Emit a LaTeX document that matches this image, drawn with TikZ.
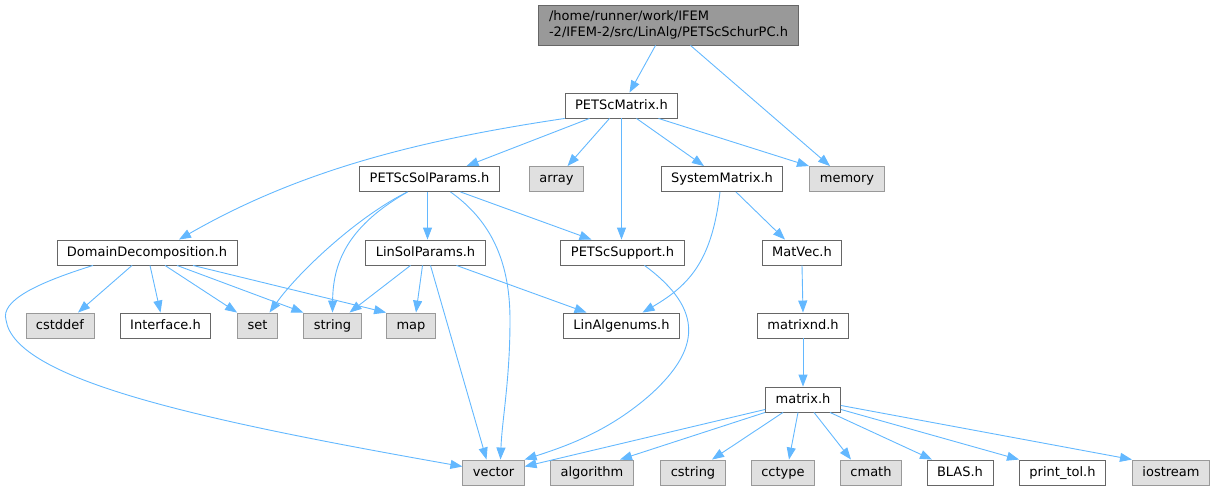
\documentclass[tikz,border=0pt]{standalone}
\usepackage{fontspec}
\setmainfont{DejaVu Sans}
\usetikzlibrary{arrows.meta}
\definecolor{edgeblue}{HTML}{63B8FF}
\definecolor{sysfill}{HTML}{E0E0E0}
\definecolor{sysline}{HTML}{999999}
\definecolor{fileline}{HTML}{666666}

\begin{document}
\begin{tikzpicture}[x=1pt,y=-1pt,
    font=\fontsize{13}{16}\selectfont,
    file/.style={draw=fileline, fill=white, line width=0.9pt, inner xsep=10pt,
        minimum height=25pt, text height=9.5pt, text depth=2.5pt},
    sysfile/.style={file, draw=sysline, fill=sysfill},
    rootfile/.style={file, fill=sysline, align=left, inner xsep=10.5pt,
        minimum height=40pt, text height=, text depth=},
    dep/.style={draw=edgeblue, line width=0.9pt, -{Triangle[length=12pt,width=9pt]}}]
    \useasboundingbox (0,0) rectangle (1216,491);

    % rows of the include graph
    \node[rootfile] (root) at (668.5,25) {/home/runner/work/IFEM\\-2/IFEM-2/src/LinAlg/PETScSchurPC.h};
    \node[file] (pmat) at (621.5,105.5) {PETScMatrix.h};

    \node[file] (psp) at (429.5,179) {PETScSolParams.h};
    \node[sysfile] (array) at (556.5,179) {array};
    \node[file] (sysm) at (722,179) {SystemMatrix.h};
    \node[sysfile] (memory) at (847,179) {memory};

    \node[file] (dd) at (147,252.5) {DomainDecomposition.h};
    \node[file] (lsp) at (425.5,252.5) {LinSolParams.h};
    \node[file] (psup) at (622.5,252.5) {PETScSupport.h};
    \node[file] (matvec) at (802,252.5) {MatVec.h};

    \node[sysfile] (cstddef) at (60,325.5) {cstddef};
    \node[file] (iface) at (165.5,325.5) {Interface.h};
    \node[sysfile] (set) at (257.5,325.5) {set};
    \node[sysfile] (string) at (332.5,325.5) {string};
    \node[sysfile] (map) at (411,325.5) {map};
    \node[file] (lae) at (621.5,325.5) {LinAlgenums.h};
    \node[file] (matnd) at (803,325.5) {matrixnd.h};

    \node[file] (matrix) at (803,399.5) {matrix.h};

    \node[sysfile] (vector) at (493.5,472.5) {vector};
    \node[sysfile] (algo) at (592,472.5) {algorithm};
    \node[sysfile] (cstring) at (693,472.5) {cstring};
    \node[sysfile] (cctype) at (783,472.5) {cctype};
    \node[sysfile] (cmath) at (871,472.5) {cmath};
    \node[file] (blas) at (960,472.5) {BLAS.h};
    \node[file] (ptol) at (1062.5,472.5) {print\_tol.h};
    \node[sysfile] (iostream) at (1171,472.5) {iostream};

    % PETScSchurPC.h
    \draw[dep] ([xshift=-13pt]root.south) -- ([xshift=8pt]pmat.north);
    \draw[dep] ([xshift=22pt]root.south) -- ([xshift=-17pt]memory.north);

    % PETScMatrix.h
    \draw[dep] (pmat.south west) .. controls (420,140) and (300,170) .. ([xshift=32pt]dd.north);
    \draw[dep] ([xshift=-32pt]pmat.south) -- ([xshift=37pt]psp.north);
    \draw[dep] ([xshift=-12pt]pmat.south) -- ([xshift=11pt]array.north);
    \draw[dep] (pmat.south) -- ([xshift=-1pt]psup.north);
    \draw[dep] ([xshift=15pt]pmat.south) -- ([xshift=-18pt]sysm.north);
    \draw[dep] ([xshift=37pt]pmat.south) -- ([xshift=-38pt]memory.north);

    % PETScSolParams.h
    \draw[dep] ([xshift=-22pt]psp.south) .. controls (360,215) and (300,270) .. ([xshift=12pt]set.north);
    \draw[dep] ([xshift=-22pt]psp.south) .. controls (350,225) and (333,260) .. ([xshift=0pt]string.north);
    \draw[dep] ([xshift=-2pt]psp.south) -- ([xshift=2pt]lsp.north);
    \draw[dep] ([xshift=21pt]psp.south) .. controls (490,220) and (510,260) .. (510,320)
        .. controls (510,380) and (502,420) .. ([xshift=7pt]vector.north);
    \draw[dep] ([xshift=31pt]psp.south) -- ([xshift=-31pt]psup.north);

    % SystemMatrix.h
    \draw[dep] ([xshift=-2pt]sysm.south) .. controls (712,260) and (690,285) .. ([xshift=21pt]lae.north);
    \draw[dep] ([xshift=14pt]sysm.south) -- ([xshift=-17pt]matvec.north);

    % DomainDecomposition.h
    \draw[dep] ([xshift=-54pt]dd.south) .. controls (40,282) and (0,300) .. (6,320)
        .. controls (15,380) and (200,420) .. ([yshift=6pt]vector.west);
    \draw[dep] ([xshift=-15pt]dd.south) -- ([xshift=18pt]cstddef.north);
    \draw[dep] ([xshift=3pt]dd.south) -- ([xshift=-5pt]iface.north);
    \draw[dep] ([xshift=18pt]dd.south) -- (set.north west);
    \draw[dep] ([xshift=30pt]dd.south) -- (string.north west);
    \draw[dep] ([xshift=46pt]dd.south) -- (map.north west);

    % LinSolParams.h
    \draw[dep] ([xshift=-15pt]lsp.south) -- ([xshift=17pt]string.north);
    \draw[dep] ([xshift=-3pt]lsp.south) -- ([xshift=5pt]map.north);
    \draw[dep] ([xshift=5pt]lsp.south) -- ([xshift=-7pt]vector.north);
    \draw[dep] ([xshift=31pt]lsp.south) -- ([xshift=-35pt]lae.north);

    % PETScSupport.h
    \draw[dep] ([xshift=22pt]psup.south) .. controls (705,310) and (700,350) .. (650,395)
        .. controls (610,430) and (570,445) .. (vector.north east);

    % MatVec.h, matrixnd.h
    \draw[dep] (matvec.south) -- (matnd.north);
    \draw[dep] (matnd.south) -- (matrix.north);

    % matrix.h
    \draw[dep] ([yshift=3pt]matrix.south west) -- ([yshift=6pt]vector.east);
    \draw[dep] ([xshift=-38pt]matrix.south) -- ([xshift=28pt]algo.north);
    \draw[dep] ([xshift=-20pt]matrix.south) -- ([xshift=19pt]cstring.north);
    \draw[dep] ([xshift=-5pt]matrix.south) -- ([xshift=6pt]cctype.north);
    \draw[dep] ([xshift=11pt]matrix.south) -- ([xshift=-20pt]cmath.north);
    \draw[dep] ([xshift=27pt]matrix.south) -- ([xshift=-28pt]blas.north);
    \draw[dep] ([yshift=3pt]matrix.south east) -- (ptol.north west);
    \draw[dep] ([yshift=7pt]matrix.south east) -- (iostream.north west);
\end{tikzpicture}
\end{document}
